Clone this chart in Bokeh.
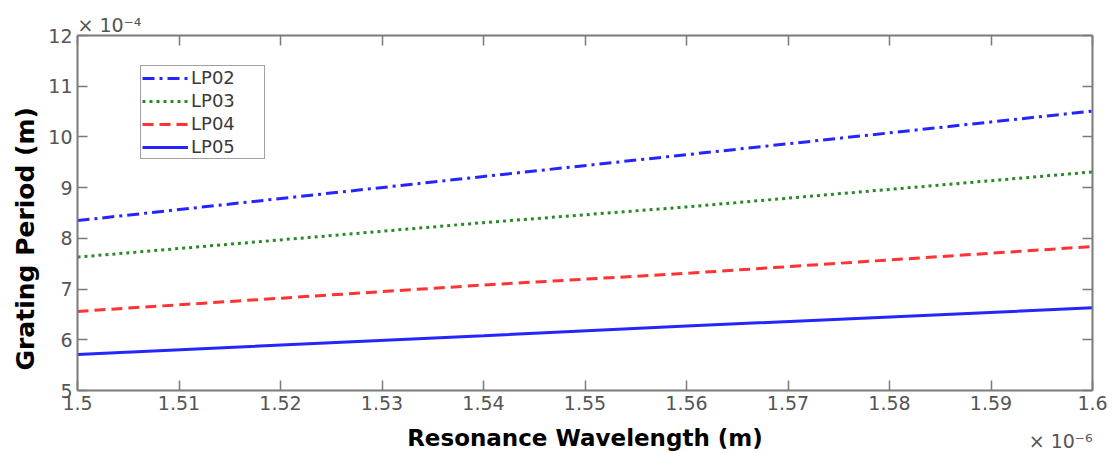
import math
from bokeh.plotting import figure
from bokeh.models import FixedTicker, Legend, LegendItem, LinearAxis, Range1d, Title
from bokeh.embed import file_html
from bokeh.resources import INLINE

# Data (x in units of 1e-6 m, y in units of 1e-4 m)
wavelength = [1.50, 1.54, 1.56, 1.60]
lp02 = [8.35, 9.22, 9.65, 10.51]
lp03 = [7.63, 8.31, 8.62, 9.31]
lp04 = [6.56, 7.08, 7.31, 7.84]
lp05 = [5.71, 6.08, 6.27, 6.63]

x_ticks = [1.50, 1.51, 1.52, 1.53, 1.54, 1.55, 1.56, 1.57, 1.58, 1.59, 1.60]
x_tick_labels = ["1.5", "1.51", "1.52", "1.53", "1.54", "1.55", "1.56", "1.57", "1.58", "1.59", "1.6"]
y_ticks = [5, 6, 7, 8, 9, 10, 11, 12]
y_tick_labels = ["5", "6", "7", "8", "9", "10", "11", "12"]

AX = "#7a7a7a"
TICKC = "#555555"
TFONT = "DejaVu Sans"

p = figure(width=1110, height=453,
           min_border_left=77, min_border_right=18, min_border_top=35, min_border_bottom=61,
           x_range=Range1d(1.5, 1.6), y_range=Range1d(5, 12),
           output_backend="svg", toolbar_location=None)
p.background_fill_color = "white"
p.border_fill_color = "white"
p.outline_line_color = None
p.xgrid.visible = False
p.ygrid.visible = False

# main axes
xa = p.xaxis[0]
xa.ticker = FixedTicker(ticks=x_ticks)
xa.major_label_overrides = {t: l for t, l in zip(x_ticks, x_tick_labels)}
ya = p.yaxis[0]
ya.ticker = FixedTicker(ticks=y_ticks)
ya.major_label_overrides = {t: l for t, l in zip(y_ticks, y_tick_labels)}
for a in (xa, ya):
    a.axis_line_color = AX
    a.axis_line_width = 2
    a.major_tick_line_color = AX
    a.major_tick_line_width = 1.5
    a.major_tick_in = 10
    a.major_tick_out = 0
    a.minor_tick_line_color = None
    a.major_label_text_font = TFONT
    a.major_label_text_font_size = "19px"
    a.major_label_text_color = TICKC
    a.major_label_standoff = 5

xa.axis_label = "Resonance Wavelength (m)"
xa.axis_label_text_font = "DejaVu Sans"
xa.axis_label_text_font_style = "bold"
xa.axis_label_text_font_size = "23px"
xa.axis_label_text_color = "black"
xa.axis_label_standoff = 12

# box axes (top/right) with inward ticks, no labels
def box_axis(ticks):
    return LinearAxis(ticker=FixedTicker(ticks=ticks), major_label_text_font_size="1px",
                      major_label_text_color=None, major_label_standoff=0,
                      axis_line_color=AX, axis_line_width=2,
                      major_tick_line_color=AX, major_tick_line_width=1.5, major_tick_in=10,
                      major_tick_out=0, minor_tick_line_color=None)

p.add_layout(box_axis(x_ticks), "above")
p.add_layout(box_axis(y_ticks), "right")

# y axis label as a left-side title, shifted along the axis
p.add_layout(Title(text="Grating Period (m)", align="left", offset=20, standoff=12,
                   text_font="DejaVu Sans", text_font_style="bold",
                   text_font_size="25px", text_color="black"), "left")

# exponent of the y axis
p.add_layout(Title(text="\u00d7 10\u207b\u2074", align="left", offset=0, standoff=0,
                   text_font=TFONT, text_font_style="normal",
                   text_font_size="19px", text_color=TICKC), "above")

# exponent of the x axis (pulled up beside the axis label)
p.add_layout(Title(text="\u00d7 10\u207b\u2076", align="right", vertical_align="top",
                   offset=0, standoff=-47,
                   text_font=TFONT, text_font_style="normal",
                   text_font_size="19px", text_color=TICKC), "below")

r2 = p.line(wavelength, lp02, line_color="#2525ff", line_width=3, line_dash="12 5 3 5")
r3 = p.line(wavelength, lp03, line_color="#2a8a2a", line_width=3, line_dash="3 4")
r4 = p.line(wavelength, lp04, line_color="#ff3333", line_width=3, line_dash="11 6")
r5 = p.line(wavelength, lp05, line_color="#2525ff", line_width=3)

legend = Legend(items=[LegendItem(label="LP02", renderers=[r2]),
                       LegendItem(label="LP03", renderers=[r3]),
                       LegendItem(label="LP04", renderers=[r4]),
                       LegendItem(label="LP05", renderers=[r5])],
                location=(63, 231), orientation="vertical")
legend.label_text_font = TFONT
legend.label_text_font_size = "18px"
legend.label_text_color = "#3a3a3a"
legend.glyph_width = 46
legend.glyph_height = 20
legend.label_height = 20
legend.label_width = 72
legend.label_standoff = 3
legend.spacing = 2
legend.padding = 1
legend.margin = 0
legend.border_line_color = "#444444"
legend.border_line_width = 1.5
legend.background_fill_color = "white"
legend.background_fill_alpha = 1.0
p.add_layout(legend, "center")

open("out.html", "w").write(file_html(p, INLINE))
